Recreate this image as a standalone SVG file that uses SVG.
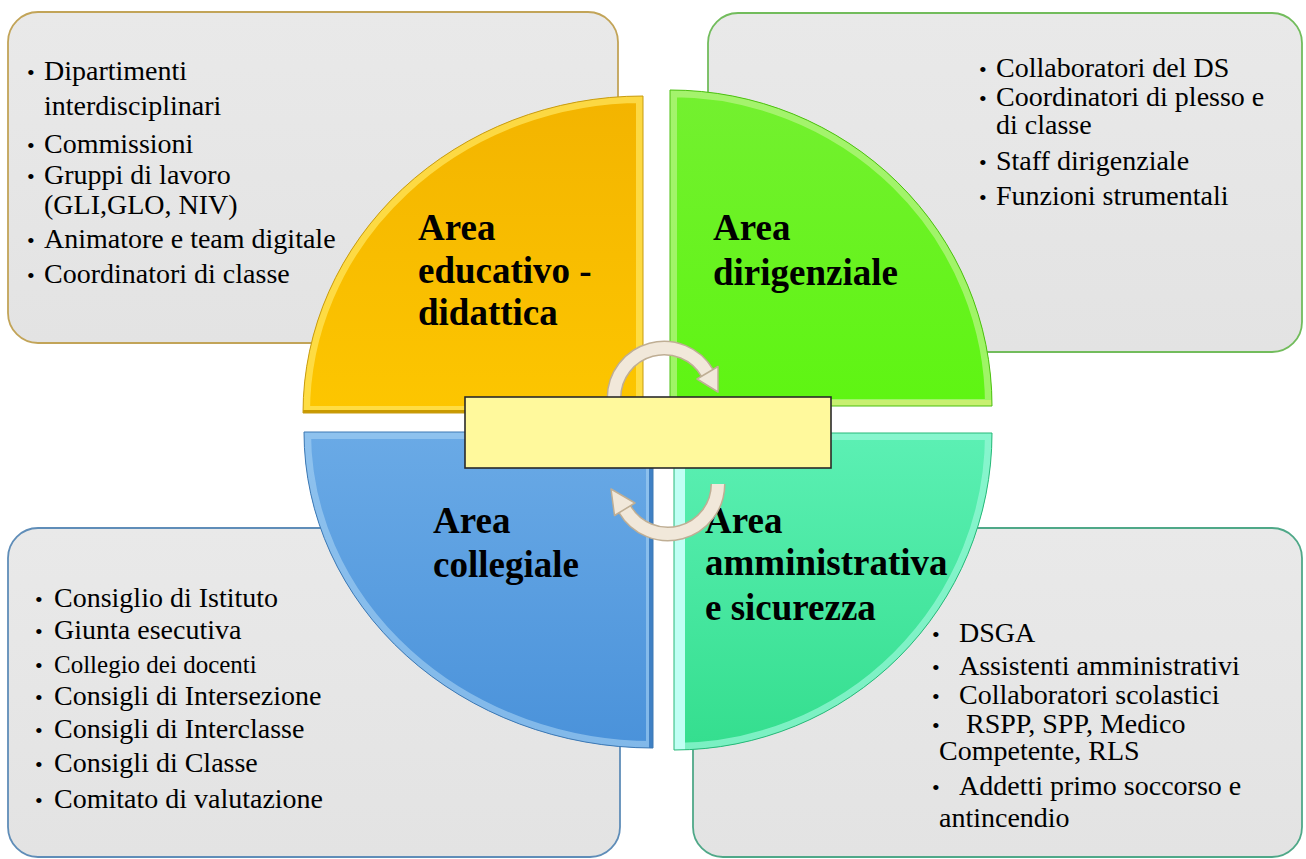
<svg xmlns="http://www.w3.org/2000/svg" width="1306" height="859" viewBox="0 0 1306 859">
<style>
.item{font-family:"Liberation Serif","Times New Roman",serif;font-size:28px;fill:#000}
.bul{font-family:"Liberation Serif","Times New Roman",serif;font-size:22px;fill:#000}
.lbl{font-family:"Liberation Serif","Times New Roman",serif;font-size:37px;font-weight:bold;fill:#000}
.box{stroke-width:1.8}
.bevel{fill:none;stroke-width:14}
</style>
<defs>
<linearGradient id="gBox" x1="0" y1="0" x2="0" y2="1"><stop offset="0" stop-color="#e9e9e9"/><stop offset="1" stop-color="#e3e3e3"/></linearGradient>
<linearGradient id="gY" x1="0" y1="0" x2="0" y2="1"><stop offset="0" stop-color="#f3b400"/><stop offset="1" stop-color="#fdc600"/></linearGradient>
<linearGradient id="gG" x1="0" y1="0" x2="0" y2="1"><stop offset="0" stop-color="#74f030"/><stop offset="1" stop-color="#5ef512"/></linearGradient>
<linearGradient id="gB" x1="0" y1="0" x2="0" y2="1"><stop offset="0" stop-color="#6aaae6"/><stop offset="1" stop-color="#4a92da"/></linearGradient>
<linearGradient id="gT" x1="0" y1="0" x2="0" y2="1"><stop offset="0" stop-color="#5cf0b4"/><stop offset="1" stop-color="#34de8e"/></linearGradient>
<clipPath id="cY"><path d="M643 413 L303 413 A340 317 0 0 1 643 96 Z"/></clipPath>
<clipPath id="cG"><path d="M670 406 L670 90 A322 316 0 0 1 992 406 Z"/></clipPath>
<clipPath id="cB"><path d="M653 432 L653 748 A349 316 0 0 1 304 432 Z"/></clipPath>
<clipPath id="cT"><path d="M674 433 L992 433 A318 317 0 0 1 674 750 Z"/></clipPath>
</defs>
<rect width="1306" height="859" fill="#ffffff"/>

<g id="box-educativo">
<rect class="box" x="8" y="12" width="610" height="331" rx="30" fill="url(#gBox)" stroke="#c2a458"/>
<text class="bul" x="27" y="80">•</text><text class="item" x="44" y="80">Dipartimenti</text>
<text class="item" x="44" y="115">interdisciplinari</text>
<text class="bul" x="27" y="153">•</text><text class="item" x="44" y="153">Commissioni</text>
<text class="bul" x="27" y="184">•</text><text class="item" x="44" y="184">Gruppi di lavoro</text>
<text class="item" x="44" y="214">(GLI,GLO, NIV)</text>
<text class="bul" x="27" y="248">•</text><text class="item" x="44" y="248">Animatore e team digitale</text>
<text class="bul" x="27" y="283">•</text><text class="item" x="44" y="283">Coordinatori di classe</text>
</g>

<g id="box-dirigenziale">
<rect class="box" x="708" y="13" width="594" height="339" rx="30" fill="url(#gBox)" stroke="#72bc5c"/>
<text class="bul" x="979" y="77">•</text><text class="item" x="996" y="77">Collaboratori del DS</text>
<text class="bul" x="979" y="106">•</text><text class="item" x="996" y="106">Coordinatori di plesso e</text>
<text class="item" x="996" y="134">di classe</text>
<text class="bul" x="979" y="170">•</text><text class="item" x="996" y="170">Staff dirigenziale</text>
<text class="bul" x="979" y="205">•</text><text class="item" x="996" y="205">Funzioni strumentali</text>
</g>

<g id="box-collegiale">
<rect class="box" x="8" y="528" width="612" height="329" rx="30" fill="url(#gBox)" stroke="#5f8db8"/>
<text class="bul" x="35" y="607">•</text><text class="item" x="54" y="607">Consiglio di Istituto</text>
<text class="bul" x="35" y="639">•</text><text class="item" x="54" y="639">Giunta esecutiva</text>
<text class="bul" x="35" y="673">•</text><text class="item" x="54" y="673" style="font-size:25px">Collegio dei docenti</text>
<text class="bul" x="35" y="705">•</text><text class="item" x="54" y="705">Consigli di Intersezione</text>
<text class="bul" x="35" y="738">•</text><text class="item" x="54" y="738">Consigli di Interclasse</text>
<text class="bul" x="35" y="772">•</text><text class="item" x="54" y="772">Consigli di Classe</text>
<text class="bul" x="35" y="808">•</text><text class="item" x="54" y="808">Comitato di valutazione</text>
</g>

<g id="box-amministrativa">
<rect class="box" x="693" y="528" width="609" height="329" rx="30" fill="url(#gBox)" stroke="#4fa888"/>
<text class="bul" x="932" y="642">•</text><text class="item" x="959" y="642">DSGA</text>
<text class="bul" x="932" y="675">•</text><text class="item" x="959" y="675">Assistenti amministrativi</text>
<text class="bul" x="932" y="704">•</text><text class="item" x="959" y="704">Collaboratori scolastici</text>
<text class="bul" x="932" y="733">•</text><text class="item" x="966" y="733">RSPP, SPP, Medico</text>
<text class="item" x="939" y="760">Competente, RLS</text>
<text class="bul" x="932" y="795">•</text><text class="item" x="959" y="795">Addetti primo soccorso e</text>
<text class="item" x="939" y="827">antincendio</text>
</g>

<g id="area-educativo">
<path d="M643 413 L303 413 A340 317 0 0 1 643 96 Z" fill="url(#gY)"/>
<g clip-path="url(#cY)">
<path class="bevel" d="M643 413 L303 413 A340 317 0 0 1 643 96 Z" stroke="#ffe45a" stroke-opacity="0.75"/>
<path d="M303 413 L643 413" stroke="#c99a00" stroke-width="6" fill="none"/>
</g>
<path d="M643 413 L303 413 A340 317 0 0 1 643 96 Z" fill="none" stroke="#c89c10" stroke-width="1"/>
<text class="lbl" x="418" y="240">Area</text>
<text class="lbl" x="418" y="283">educativo -</text>
<text class="lbl" x="418" y="325">didattica</text>
</g>

<g id="area-dirigenziale">
<path d="M670 406 L670 90 A322 316 0 0 1 992 406 Z" fill="url(#gG)"/>
<g clip-path="url(#cG)">
<path class="bevel" d="M670 406 L670 90 A322 316 0 0 1 992 406 Z" stroke="#b4f482" stroke-opacity="0.75"/>
<path d="M670 406 L992 406" stroke="#c8f070" stroke-width="12" fill="none"/>
</g>
<path d="M670 406 L670 90 A322 316 0 0 1 992 406 Z" fill="none" stroke="#4cc010" stroke-width="1"/>
<text class="lbl" x="713" y="240">Area</text>
<text class="lbl" x="713" y="285">dirigenziale</text>
</g>

<g id="area-collegiale">
<path d="M653 432 L653 748 A349 316 0 0 1 304 432 Z" fill="url(#gB)"/>
<g clip-path="url(#cB)">
<path class="bevel" d="M653 432 L653 748 A349 316 0 0 1 304 432 Z" stroke="#a6d2f4" stroke-opacity="0.6"/>
<path d="M653 432 L653 748" stroke="#3f80c4" stroke-width="8" fill="none"/>
</g>
<path d="M653 432 L653 748 A349 316 0 0 1 304 432 Z" fill="none" stroke="#3c78b4" stroke-width="1"/>
<text class="lbl" x="433" y="533">Area</text>
<text class="lbl" x="433" y="577">collegiale</text>
</g>

<g id="area-amministrativa">
<path d="M674 433 L992 433 A318 317 0 0 1 674 750 Z" fill="url(#gT)"/>
<g clip-path="url(#cT)">
<path class="bevel" d="M674 433 L992 433 A318 317 0 0 1 674 750 Z" stroke="#9af8d8" stroke-opacity="0.7"/>
<path d="M674 433 L674 750" stroke="#c0fff4" stroke-width="22" fill="none"/>
</g>
<path d="M674 433 L992 433 A318 317 0 0 1 674 750 Z" fill="none" stroke="#26b878" stroke-width="1"/>
<text class="lbl" x="705" y="533">Area</text>
<text class="lbl" x="705" y="575">amministrativa</text>
<text class="lbl" x="705" y="620">e sicurezza</text>
</g>

<g id="connectors">
<path d="M614 398 A50 50 0 0 1 707.3 373" fill="none" stroke="#bfae94" stroke-width="15"/>
<path d="M614 398 A50 50 0 0 1 707.3 373" fill="none" stroke="#f1e8da" stroke-width="12"/>
<polygon points="718,366.5 697,379 718,392" fill="#f1e8da" stroke="#bfae94" stroke-width="1.5" stroke-linejoin="round"/>
<path d="M718 484 A50 50 0 0 1 624.7 509" fill="none" stroke="#bfae94" stroke-width="15"/>
<path d="M718 484 A50 50 0 0 1 624.7 509" fill="none" stroke="#f1e8da" stroke-width="12"/>
<polygon points="614.5,515.5 635,503 611,489" fill="#f1e8da" stroke="#bfae94" stroke-width="1.5" stroke-linejoin="round"/>
</g>

<g id="center">
<rect x="465" y="397" width="366" height="71" fill="#fff99c" stroke="#2a2a2a" stroke-width="1.6"/>
</g>
</svg>
